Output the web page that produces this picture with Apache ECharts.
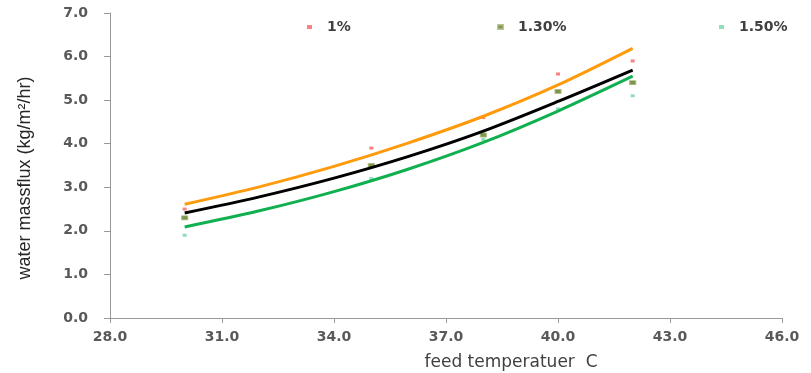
<!DOCTYPE html>
<html>
<head>
<meta charset="utf-8">
<script src="https://cdn.jsdelivr.net/npm/echarts@6/dist/echarts.min.js"></script>
<style>
  html, body { margin: 0; padding: 0; background: #fff; }
  #chart { width: 811px; height: 373px; }
</style>
</head>
<body>
<div id="chart"></div>
<script>
// Feed temperature (C) of each measurement
const temps = [30, 35, 38, 40, 42];

// Measured water mass flux (kg/m2/hr) for each salt concentration
const flux1 = [2.5, 3.9, 4.6, 5.6, 5.9];
const flux130 = [2.3, 3.5, 4.2, 5.2, 5.4];
const flux150 = [1.9, 3.2, 4.1, 4.8, 5.1];

// Exponential trend curves for each concentration, sampled every 2 C
const trendTemps = [30, 32, 34, 36, 38, 40, 42];
const trend1 = [2.61, 3.01, 3.48, 4.02, 4.63, 5.35, 6.19];
const trend130 = [2.41, 2.78, 3.21, 3.71, 4.29, 4.97, 5.69];
const trend150 = [2.09, 2.46, 2.90, 3.42, 4.03, 4.75, 5.55];

const seriesNames = ['1%', '1.30%', '1.50%'];
const xTicks = [28, 31, 34, 37, 40, 43, 46];
const yTicks = [0, 1, 2, 3, 4, 5, 6, 7];

const pairs = (xs, ys) => xs.map((x, i) => [x, ys[i]]);

const labelFont = {
  fontFamily: 'DejaVu Sans',
  fontWeight: 'bold',
  fontSize: 14,
  color: '#595959'
};

const chart = echarts.init(document.getElementById('chart'), null, { renderer: 'canvas' });

function legendAt(name, left) {
  return {
    data: [name],
    left: left,
    top: 15,
    itemWidth: 5,
    itemHeight: 4,
    textStyle: {
      fontFamily: 'DejaVu Sans',
      fontWeight: 'bold',
      fontSize: 14,
      color: '#404040',
      padding: [0, 0, 0, 10]
    }
  };
}

chart.setOption({
  animation: false,
  backgroundColor: '#fff',
  grid: { left: 110, right: 29, top: 13, bottom: 55 },
  legend: [
    legendAt(seriesNames[0], 302),
    legendAt(seriesNames[1], 492),
    legendAt(seriesNames[2], 714)
  ],
  xAxis: {
    type: 'value',
    min: xTicks[0],
    max: xTicks[xTicks.length - 1],
    splitLine: { show: false },
    axisLine: { lineStyle: { color: '#999', width: 1 } },
    axisTick: { show: true, length: 5, lineStyle: { color: '#999' }, customValues: xTicks },
    axisLabel: Object.assign({ margin: 12, customValues: xTicks,
      formatter: v => v.toFixed(1) }, labelFont)
  },
  yAxis: {
    type: 'value',
    min: 0,
    max: 7,
    interval: 1,
    splitLine: { show: false },
    axisLine: { show: true, lineStyle: { color: '#999', width: 1 } },
    axisTick: { show: true, length: 6, lineStyle: { color: '#999' } },
    axisLabel: Object.assign({ margin: 22, customValues: yTicks,
      formatter: v => v.toFixed(1) }, labelFont)
  },
  graphic: [
    {
      type: 'text',
      x: 25, y: 178,
      rotation: Math.PI / 2,
      style: {
        text: 'water massflux (kg/m²/hr)',
        fontFamily: 'Liberation Sans',
        fontSize: 18,
        fill: '#262626',
        align: 'center',
        verticalAlign: 'middle'
      }
    },
    {
      type: 'text',
      x: 511, y: 363,
      style: {
        text: 'feed temperatuer  C',
        fontFamily: 'DejaVu Sans',
        fontSize: 17,
        fill: '#404040',
        align: 'center',
        verticalAlign: 'middle'
      }
    }
  ],
  series: [
    {
      name: seriesNames[0], type: 'scatter', data: pairs(temps, flux1),
      symbol: 'rect', symbolSize: [4, 3], z: 1,
      itemStyle: { color: '#ff6060' }
    },
    {
      name: seriesNames[1], type: 'scatter', data: pairs(temps, flux130),
      symbol: 'rect', symbolSize: [6, 4], z: 1,
      itemStyle: { color: '#5c7a1e', borderColor: '#a8b878', borderWidth: 1 }
    },
    {
      name: seriesNames[2], type: 'scatter', data: pairs(temps, flux150),
      symbol: 'rect', symbolSize: [4, 3], z: 1,
      itemStyle: { color: '#70d8a8' }
    },
    {
      type: 'line', data: pairs(trendTemps, trend1), smooth: 0.3, showSymbol: false, z: 3,
      lineStyle: { color: '#ff9a0a', width: 3 }
    },
    {
      type: 'line', data: pairs(trendTemps, trend130), smooth: 0.3, showSymbol: false, z: 3,
      lineStyle: { color: '#000', width: 3 }
    },
    {
      type: 'line', data: pairs(trendTemps, trend150), smooth: 0.3, showSymbol: false, z: 3,
      lineStyle: { color: '#10b050', width: 3 }
    }
  ]
});
</script>
</body>
</html>
